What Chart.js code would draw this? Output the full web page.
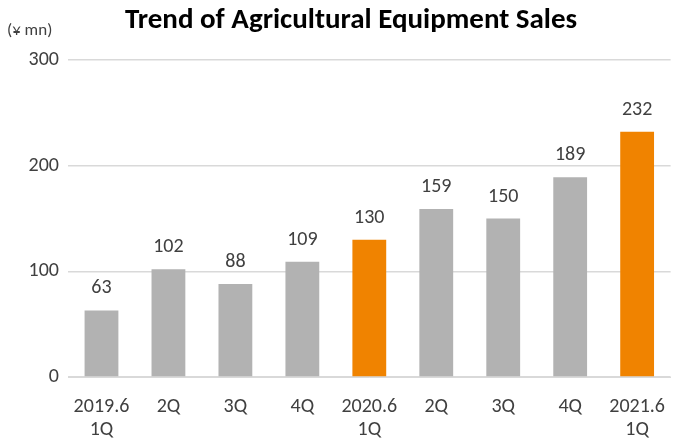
<!DOCTYPE html>
<html>
<head>
<meta charset="utf-8">
<script src="https://cdn.jsdelivr.net/npm/chart.js@4.4.0/dist/chart.umd.min.js"></script>
<style>
  html, body { margin: 0; padding: 0; background: #fff; }
  #wrap { width: 675px; height: 441px; }
</style>
</head>
<body>
<div id="wrap"><canvas id="chart"></canvas></div>
<script>
// data
const quarters = [['2019.6', '1Q'], '2Q', '3Q', '4Q', ['2020.6', '1Q'], '2Q', '3Q', '4Q', ['2021.6', '1Q']];
const sales = [63, 102, 88, 109, 130, 159, 150, 189, 232];
const highlighted = [false, false, false, false, true, false, false, false, true];
const yTicks = [0, 100, 200, 300];

const grey = '#b2b2b2';
const orange = '#f08300';
const textColor = '#404040';
const fontFamily = 'Carlito, Calibri, "Open Sans", sans-serif';

// value labels above bars + title + unit
const labelsPlugin = {
    id: 'labels',
    afterDatasetsDraw(chart) {
        const ctx = chart.ctx;
        const meta = chart.getDatasetMeta(0);
        ctx.save();
        ctx.fillStyle = textColor;
        ctx.font = '20px ' + fontFamily;
        ctx.textAlign = 'center';
        ctx.textBaseline = 'alphabetic';
        meta.data.forEach((bar, i) => {
            ctx.fillText(sales[i], bar.x, bar.y - 17);
        });

        ctx.font = 'bold 29px ' + fontFamily;
        ctx.textBaseline = 'middle';
        ctx.fillStyle = '#000';
        ctx.fillText('Trend of Agricultural Equipment Sales', 351, 21);

        ctx.font = '17px ' + fontFamily;
        ctx.fillStyle = textColor;
        ctx.textAlign = 'left';
        ctx.fillText('(¥ mn)', 7, 31);
        ctx.restore();
    }
};

new Chart(document.getElementById('chart'), {
    type: 'bar',
    data: {
        labels: quarters,
        datasets: [{
            data: sales,
            backgroundColor: highlighted.map(h => h ? orange : grey),
            categoryPercentage: 1,
            barPercentage: 0.505
        }]
    },
    options: {
        responsive: true,
        maintainAspectRatio: false,
        animation: false,
        layout: { padding: { top: 60, right: 0, left: 0, bottom: 0 } },
        plugins: {
            legend: { display: false },
            tooltip: { enabled: false }
        },
        scales: {
            x: {
                grid: { display: false },
                border: { color: '#d9d9d9' },
                afterFit: s => { s.height = 64; },
                ticks: {
                    color: textColor,
                    font: { family: fontFamily, size: 20, lineHeight: 1.15 },
                    maxRotation: 0,
                    autoSkip: false,
                    padding: 10
                }
            },
            y: {
                min: 0,
                max: 300,
                afterFit: s => { s.width = 68; },
                afterBuildTicks: s => { s.ticks = yTicks.map(v => ({ value: v })); },
                grid: { color: '#d9d9d9', lineWidth: 1.5, drawTicks: false },
                border: { display: false },
                ticks: {
                    color: textColor,
                    font: { family: fontFamily, size: 20 },
                    padding: 9
                }
            }
        }
    },
    plugins: [labelsPlugin]
});
</script>
</body>
</html>
